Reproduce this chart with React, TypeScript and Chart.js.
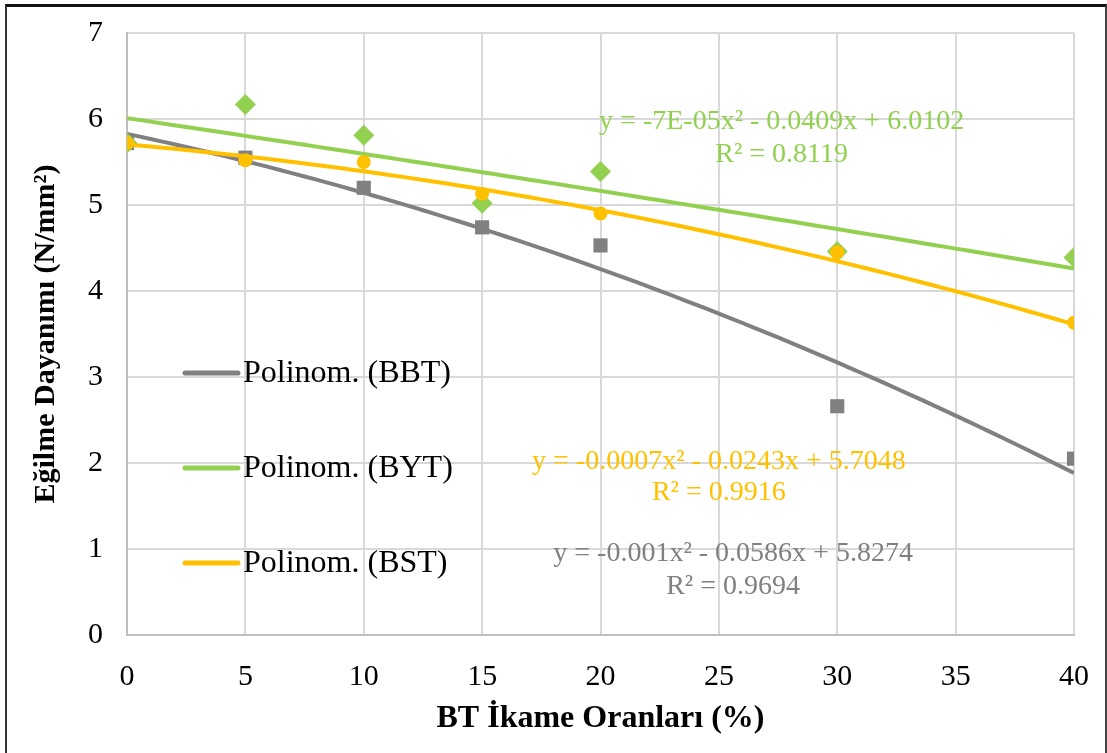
import React, { useEffect, useRef } from "react";
import { Chart, registerables } from "chart.js";

Chart.register(...registerables);

// ---- data ----
const xValues = [0, 5, 10, 15, 20, 30, 40];
const bbtValues = [5.72, 5.55, 5.2, 4.74, 4.53, 2.66, 2.05];
const bytValues = [5.72, 6.17, 5.81, 5.02, 5.39, 4.46, 4.39];
const bstValues = [5.72, 5.52, 5.5, 5.13, 4.9, 4.45, 3.63];

// polynomial trendline coefficients shown on the chart [a, b, c] for a*x^2 + b*x + c
const bbtCoef = [-0.001, -0.0586, 5.8274];
const bytCoef = [-0.00007, -0.0409, 6.0102];
const bstCoef = [-0.0007, -0.0243, 5.7048];

const seriesNames = ["BBT", "BYT", "BST"];
const legendLabels = ["Polinom. (BBT)", "Polinom. (BYT)", "Polinom. (BST)"];
const equationTexts = [
  "y = -0.001x² - 0.0586x + 5.8274",
  "y = -7E-05x² - 0.0409x + 6.0102",
  "y = -0.0007x² - 0.0243x + 5.7048",
];
const r2Texts = ["R² = 0.9694", "R² = 0.8119", "R² = 0.9916"];

const xTickLabels = ["0", "5", "10", "15", "20", "25", "30", "35", "40"];
const yTickLabels = ["0", "1", "2", "3", "4", "5", "6", "7"];

const xTitle = "BT İkame Oranları (%)";
const yTitle = "Eğilme Dayanımı (N/mm²)";

// ---- styling / placement (not data) ----
const FONT = "'Liberation Serif', 'Times New Roman', serif";
const GRAY = "#808080";
const GREEN = "#92d050";
const ORANGE = "#ffc000";
const colors = [GRAY, GREEN, ORANGE];
// label anchors in data units: [x center, y of first line, y of second line]
const labelAnchors = [
  [25.6, 0.95, 0.56],
  [27.65, 5.97, 5.58],
  [25.0, 2.02, 1.65],
];

function trend(coef: number[]) {
  const pts: { x: number; y: number }[] = [];
  for (let i = 0; i <= 80; i++) {
    const x = i * 0.5;
    pts.push({ x, y: coef[0] * x * x + coef[1] * x + coef[2] });
  }
  return pts;
}

function pts(vals: number[]) {
  return xValues.map((x, i) => ({ x, y: vals[i] }));
}

const overlayPlugin = {
  id: "overlay",
  afterDraw(chart: any) {
    const { ctx, chartArea, scales } = chart;
    const xs = scales.x;
    const ys = scales.y;
    ctx.save();
    // legend inside plot area
    const lx0 = chartArea.left + 58;
    const lx1 = chartArea.left + 111;
    const tx = chartArea.left + 116;
    const rows = [373, 468, 563];
    legendLabels.forEach((lab, i) => {
      const yy = rows[i];
      ctx.strokeStyle = colors[i];
      ctx.lineWidth = 5;
      ctx.lineCap = "round";
      ctx.beginPath();
      ctx.moveTo(lx0, yy);
      ctx.lineTo(lx1, yy);
      ctx.stroke();
      ctx.fillStyle = "#000";
      ctx.font = `32px ${FONT}`;
      ctx.textAlign = "left";
      ctx.textBaseline = "middle";
      ctx.fillText(lab, tx, yy + 1);
    });
    // equation labels
    equationTexts.forEach((eq, i) => {
      const [cx, y1, y2] = labelAnchors[i];
      ctx.fillStyle = colors[i];
      ctx.font = `28px ${FONT}`;
      ctx.textAlign = "center";
      ctx.textBaseline = "middle";
      ctx.fillText(eq, xs.getPixelForValue(cx), ys.getPixelForValue(y1));
      ctx.fillText(r2Texts[i], xs.getPixelForValue(cx), ys.getPixelForValue(y2));
    });
    ctx.restore();
  },
};

function trendSet(label: string, coef: number[], color: string) {
  return {
    label,
    data: trend(coef),
    borderColor: color,
    backgroundColor: color,
    borderWidth: 4,
    pointRadius: 0,
    showLine: true,
    fill: false,
  };
}

function pointSet(label: string, vals: number[], color: string, style: string, radius: number) {
  return {
    label,
    data: pts(vals),
    backgroundColor: color,
    borderColor: color,
    pointStyle: style,
    pointRadius: radius,
    borderWidth: 0,
    showLine: false,
  };
}

export default function App() {
  const ref = useRef<HTMLCanvasElement>(null);
  useEffect(() => {
    if (!ref.current) return;
    const chart = new Chart(ref.current, {
      type: "scatter",
      data: {
        // first dataset is drawn on top
        datasets: [
          trendSet(legendLabels[2], bstCoef, ORANGE),
          pointSet(seriesNames[2], bstValues, ORANGE, "circle", 7),
          trendSet(legendLabels[1], bytCoef, GREEN),
          pointSet(seriesNames[1], bytValues, GREEN, "rectRot", 10.5),
          trendSet(legendLabels[0], bbtCoef, GRAY),
          pointSet(seriesNames[0], bbtValues, GRAY, "rect", 10),
        ],
      },
      options: {
        responsive: false,
        animation: false,
        devicePixelRatio: 1,
        layout: { padding: { top: 33, right: 33, left: 0, bottom: 0 } },
        plugins: {
          legend: { display: false },
          tooltip: { enabled: false },
        },
        scales: {
          x: {
            type: "linear",
            min: 0,
            max: 40,
            afterFit(s: any) {
              s.height = 118;
              s.paddingLeft = 0;
              s.paddingRight = 0;
            },
            afterBuildTicks(s: any) {
              s.ticks = xTickLabels.map((t) => ({ value: Number(t) }));
            },
            ticks: {
              font: { family: FONT, size: 30 },
              color: "#000",
              padding: 24,
              callback: (v: any) => xTickLabels[xTickLabels.indexOf(String(v))] ?? "",
            },
            grid: { color: "#d9d9d9", lineWidth: 2, drawTicks: false },
            border: { color: "#bfbfbf", width: 2 },
            title: {
              display: true,
              text: xTitle,
              color: "#000",
              font: { family: FONT, size: 32, weight: "bold" },
              padding: { top: 0, bottom: 15 },
            },
          },
          y: {
            min: 0,
            max: 7,
            afterFit(s: any) {
              s.width = 127;
              s.paddingTop = 0;
              s.paddingBottom = 0;
            },
            afterBuildTicks(s: any) {
              s.ticks = yTickLabels.map((t) => ({ value: Number(t) }));
            },
            ticks: {
              font: { family: FONT, size: 30 },
              color: "#000",
              padding: 24,
              callback: (v: any) => yTickLabels[yTickLabels.indexOf(String(v))] ?? "",
            },
            grid: { color: "#d9d9d9", lineWidth: 2, drawTicks: false },
            border: { color: "#bfbfbf", width: 2 },
            title: {
              display: true,
              text: yTitle,
              color: "#000",
              font: { family: FONT, size: 30, weight: "bold" },
              padding: { top: 28, bottom: 0 },
            },
          },
        },
      },
      plugins: [overlayPlugin],
    } as any);
    return () => chart.destroy();
  }, []);

  return (
    <div style={{ position: "absolute", left: 0, top: 0, width: 1107, height: 753, background: "#fff", overflow: "hidden" }}>
      <canvas ref={ref} width={1107} height={753} style={{ position: "absolute", left: 0, top: 0 }} />
      <div
        style={{
          position: "absolute",
          left: 5,
          top: 4,
          width: 1098,
          height: 800,
          borderTop: "3px solid #111",
          borderLeft: "2px solid #333",
          borderRight: "2px solid #444",
          pointerEvents: "none",
        }}
      />
    </div>
  );
}
